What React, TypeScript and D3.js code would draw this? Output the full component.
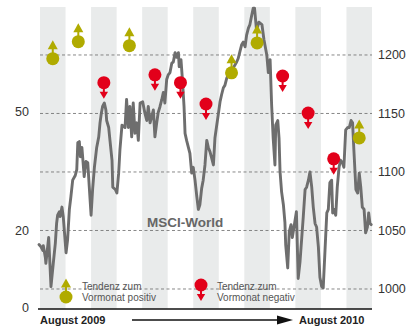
import React from "react";
import * as d3 from "d3";

// month bands, Aug 2009 .. Aug 2010
const months = ["Aug", "Sep", "Okt", "Nov", "Dez", "Jan", "Feb", "Mär", "Apr", "Mai", "Jun", "Jul", "Aug"];
// trend signal per month: up = Tendenz zum Vormonat positiv, down = negativ
const trend = ["up", "up", "down", "up", "down", "down", "down", "up", "up", "down", "down", "down", "up"];
const signalValues = [63.5, 67.8, 57.4, 66.8, 59.4, 57.4, 52.0, 59.9, 67.5, 59.1, 49.7, 38.1, 43.4];

const leftTicks = [0, 20, 50];
const rightTicks = [1000, 1050, 1100, 1150, 1200];

// MSCI-World, position in months since start of Aug 2009
const lineMonths = [
  -0.04, 0.04, 0.11, 0.13, 0.21, 0.23, 0.34, 0.43, 0.52, 0.6, 0.65, 0.69, 0.76, 0.79, 0.86, 0.91,
  1.02, 1.08, 1.15, 1.21, 1.28, 1.38, 1.44, 1.48, 1.54, 1.58, 1.64, 1.67, 1.73, 1.8, 1.87, 1.93,
  2.0, 2.06, 2.13, 2.22, 2.3, 2.35, 2.4, 2.45, 2.52, 2.58, 2.61, 2.69, 2.74, 2.82, 2.85, 2.95,
  3.01, 3.08, 3.13, 3.21, 3.33, 3.39, 3.46, 3.52, 3.59, 3.65, 3.72, 3.79, 3.85, 3.92, 4.02, 4.11,
  4.18, 4.24, 4.31, 4.37, 4.44, 4.5, 4.57, 4.63, 4.7, 4.77, 4.83, 4.89, 4.96, 5.02, 5.09, 5.16,
  5.22, 5.29, 5.35, 5.42, 5.45, 5.52, 5.57, 5.64, 5.68, 5.74, 5.81, 5.87, 5.94, 6.0, 6.07, 6.14,
  6.2, 6.26, 6.33, 6.39, 6.46, 6.53, 6.59, 6.66, 6.72, 6.79, 6.85, 6.92, 6.98, 7.05, 7.11, 7.18,
  7.24, 7.31, 7.37, 7.44, 7.57, 7.7, 7.76, 7.83, 7.9, 7.96, 8.03, 8.09, 8.16, 8.22, 8.29, 8.35,
  8.4, 8.48, 8.57, 8.69, 8.77, 8.88, 8.94, 9.01, 9.07, 9.13, 9.2, 9.23, 9.31, 9.36, 9.4, 9.46,
  9.53, 9.59, 9.62, 9.7, 9.76, 9.83, 9.88, 9.96, 10.04, 10.11, 10.18, 10.25, 10.31, 10.38, 10.44, 10.51,
  10.57, 10.64, 10.7, 10.77, 10.83, 10.9, 10.96, 11.03, 11.09, 11.16, 11.23, 11.29, 11.35, 11.42, 11.46, 11.51,
  11.58, 11.64, 11.71, 11.77, 11.84, 11.9, 11.97, 12.05, 12.11, 12.18, 12.24, 12.29, 12.37, 12.44, 12.5, 12.56,
  12.62, 12.69, 12.75, 12.82, 12.87, 12.92, 12.97,
];
const lineValues = [
  1038, 1036, 1033, 1037, 1027, 1022, 1044, 1002, 1022, 1039, 1056, 1063, 1066, 1062, 1070, 1062,
  1031, 1042, 1068, 1079, 1093, 1097, 1102, 1125, 1126, 1113, 1121, 1113, 1096, 1109, 1108, 1087,
  1063, 1085, 1104, 1121, 1130, 1142, 1150, 1156, 1159, 1153, 1144, 1138, 1127, 1110, 1087, 1085,
  1082, 1099, 1119, 1140, 1138, 1162, 1138, 1156, 1130, 1159, 1133, 1142, 1127, 1159, 1160, 1150,
  1144, 1156, 1142, 1147, 1153, 1130, 1142, 1151, 1156, 1162, 1168, 1159, 1179, 1183, 1185, 1193,
  1194, 1202, 1198, 1202, 1190, 1196, 1181, 1156, 1133, 1127, 1121, 1116, 1099, 1104, 1093, 1079,
  1068, 1072, 1086, 1093, 1106, 1127, 1121, 1117, 1112, 1106, 1129, 1140, 1149, 1160, 1166, 1172,
  1174, 1180, 1183, 1185, 1189, 1194, 1197, 1203, 1209, 1211, 1207, 1217, 1223, 1226, 1234, 1240,
  1240, 1221, 1228, 1226, 1213, 1200, 1185, 1196, 1157, 1129, 1106, 1140, 1144, 1129, 1100, 1083,
  1072, 1057, 1038, 1018, 1049, 1055, 1044, 1055, 1066, 1009, 1023, 1044, 1062, 1085, 1087, 1093,
  1100, 1087, 1070, 1056, 1053, 1036, 1010, 1002, 1001, 1033, 1065, 1068, 1091, 1093, 1065, 1068,
  1063, 1087, 1104, 1110, 1108, 1104, 1136, 1138, 1138, 1144, 1142, 1119, 1085, 1082, 1099, 1087,
  1070, 1068, 1048, 1053, 1065, 1056, 1055,
];

const W = 408;
const H = 328;
const plot = { left: 40, right: 372, top: 7, bottom: 309 };

const OLIVE = "#b0ab00";
const RED = "#e2001a";
const FONT = "'Liberation Sans', Arial, sans-serif";

const Marker = ({ x, y, dir, r = 6.5 }: { x: number; y: number; dir: string; r?: number }) => {
  if (dir === "up") {
    return (
      <g fill={OLIVE}>
        <rect x={x - 1} y={y - 11} width={2} height={11} />
        <path d={`M${x},${y - 18.5} L${x + 5},${y - 9.5} L${x - 5},${y - 9.5} Z`} />
        <circle cx={x} cy={y} r={r} />
      </g>
    );
  }
  return (
    <g fill={RED}>
      <rect x={x - 1} y={y} width={2} height={10} />
      <path d={`M${x},${y + 16} L${x + 4.2},${y + 9} L${x - 4.2},${y + 9} Z`} />
      <circle cx={x} cy={y} r={r} />
    </g>
  );
};

export default function App() {
  const x = d3.scaleLinear().domain([0, months.length]).range([plot.left, plot.right]);
  const yLeft = d3.scaleLinear().domain([0, 76.6]).range([plot.bottom, plot.top]);
  const yRight = d3.scaleLinear().domain([982.9, 1241]).range([plot.bottom, plot.top]);

  const line = d3
    .line<number>()
    .x((_, i) => x(lineMonths[i]))
    .y((d) => yRight(d));

  return (
    <svg
      width={W}
      height={H}
      style={{ position: "absolute", left: 0, top: 0, background: "#fff" }}
      fontFamily={FONT}
    >
      {/* monthly stripes */}
      {months.map((m, i) =>
        i % 2 === 0 ? (
          <rect
            key={"s" + i}
            x={x(i)}
            y={plot.top}
            width={x(i + 1) - x(i)}
            height={plot.bottom - plot.top}
            fill="#e9ebeb"
          />
        ) : null
      )}

      {/* grid lines (right axis) */}
      {rightTicks.map((t) => (
        <line
          key={"g" + t}
          x1={plot.left}
          x2={plot.right}
          y1={yRight(t)}
          y2={yRight(t)}
          stroke="#6a6a6a"
          strokeWidth={0.8}
          strokeDasharray="3,2.5"
        />
      ))}

      {/* right axis labels */}
      {rightTicks.map((t) => (
        <text key={"r" + t} x={378} y={yRight(t)} dy="0.35em" fontSize={12.5} fill="#333">
          {t}
        </text>
      ))}

      {/* left axis labels */}
      {leftTicks.map((t) => (
        <text
          key={"l" + t}
          x={29}
          y={t === 0 ? yLeft(t) - 1 : yLeft(t)}
          dy="0.35em"
          textAnchor="end"
          fontSize={12.5}
          fill="#333"
        >
          {t}
        </text>
      ))}

      <text x={147} y={227} fontSize={13.5} fontWeight="bold" fill="#666">
        MSCI-World
      </text>

      {/* legend */}
      <Marker x={66} y={297} dir="up" />
      <text x={82} y={290} fontSize={10} fill="#555">Tendenz zum</text>
      <text x={82} y={301} fontSize={10} fill="#555">Vormonat positiv</text>
      <Marker x={201} y={285} dir="down" />
      <text x={217} y={290} fontSize={10} fill="#555">Tendenz zum</text>
      <text x={217} y={301} fontSize={10} fill="#555">Vormonat negativ</text>

      {/* index line */}
      <path
        d={line(lineValues) || ""}
        fill="none"
        stroke="#6e6e6e"
        strokeWidth={2.9}
        strokeLinejoin="round"
        strokeLinecap="round"
      />

      {/* monthly signals */}
      {signalValues.map((v, i) => (
        <Marker key={"m" + i} x={x(i + 0.5)} y={yLeft(v)} dir={trend[i]} />
      ))}

      {/* base axis */}
      <line x1={38} x2={plot.right} y1={plot.bottom} y2={plot.bottom} stroke="#111" strokeWidth={1.5} />

      {/* time span */}
      <text x={40} y={324} fontSize={11} fontWeight="bold" fill="#222">August 2009</text>
      <line x1={132} x2={280} y1={320} y2={320} stroke="#111" strokeWidth={1.3} />
      <path d="M277,315.5 L293,320 L277,324.5 Z" fill="#111" />
      <text x={299} y={324} fontSize={11} fontWeight="bold" fill="#222">August 2010</text>
    </svg>
  );
}
